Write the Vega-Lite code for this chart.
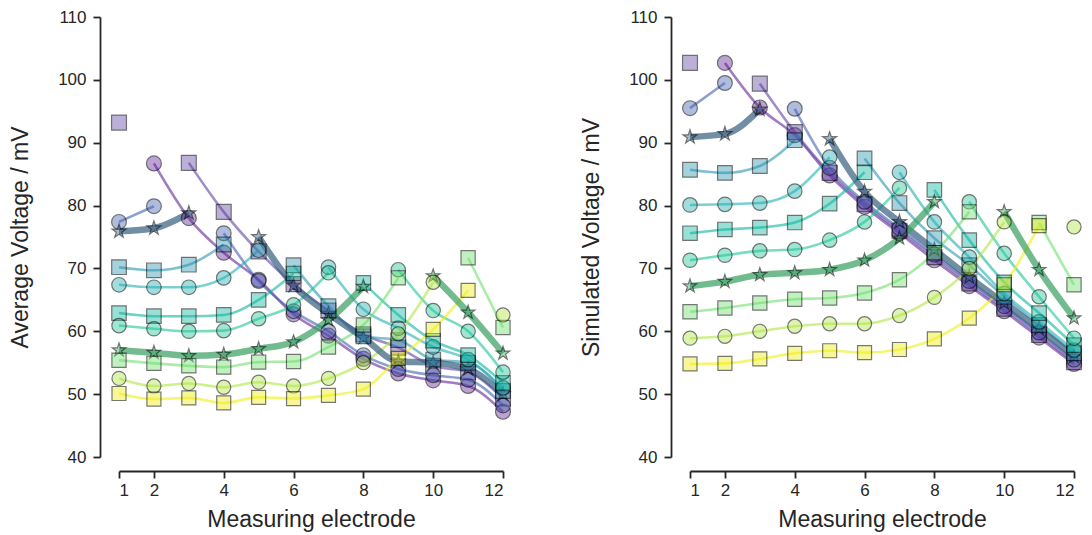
{
"$schema":"https://vega.github.io/schema/vega-lite/v6.json",
"padding":{"left":9,"top":8,"right":5,"bottom":5},
"datasets":{"d":[
{"p":"a","s":1,"e":2,"v":86.7,"g":1},{"p":"a","s":1,"e":3,"v":78.0,"g":1},{"p":"a","s":1,"e":4,"v":72.5,"g":1},{"p":"a","s":1,"e":5,"v":68.2,"g":1},{"p":"a","s":1,"e":6,"v":62.7,"g":1},{"p":"a","s":1,"e":7,"v":59.3,"g":1},{"p":"a","s":1,"e":8,"v":55.6,"g":1},{"p":"a","s":1,"e":9,"v":53.3,"g":1},{"p":"a","s":1,"e":10,"v":52.2,"g":1},{"p":"a","s":1,"e":11,"v":51.3,"g":1},{"p":"a","s":1,"e":12,"v":47.2,"g":1},
{"p":"a","s":2,"e":1,"v":93.2,"g":0},{"p":"a","s":2,"e":3,"v":86.8,"g":1},{"p":"a","s":2,"e":4,"v":79.0,"g":1},{"p":"a","s":2,"e":5,"v":72.7,"g":1},{"p":"a","s":2,"e":6,"v":67.5,"g":1},{"p":"a","s":2,"e":7,"v":63.3,"g":1},{"p":"a","s":2,"e":8,"v":59.5,"g":1},{"p":"a","s":2,"e":9,"v":57.4,"g":1},{"p":"a","s":2,"e":10,"v":54.5,"g":1},{"p":"a","s":2,"e":11,"v":53.5,"g":1},{"p":"a","s":2,"e":12,"v":49.3,"g":1},
{"p":"a","s":3,"e":1,"v":77.4,"g":0},{"p":"a","s":3,"e":2,"v":79.9,"g":0},{"p":"a","s":3,"e":4,"v":75.6,"g":1},{"p":"a","s":3,"e":5,"v":68.0,"g":1},{"p":"a","s":3,"e":6,"v":63.2,"g":1},{"p":"a","s":3,"e":7,"v":60.0,"g":1},{"p":"a","s":3,"e":8,"v":56.2,"g":1},{"p":"a","s":3,"e":9,"v":54.0,"g":1},{"p":"a","s":3,"e":10,"v":53.0,"g":1},{"p":"a","s":3,"e":11,"v":52.3,"g":1},{"p":"a","s":3,"e":12,"v":48.2,"g":1},
{"p":"a","s":4,"e":1,"v":75.9,"g":0},{"p":"a","s":4,"e":2,"v":76.4,"g":0},{"p":"a","s":4,"e":3,"v":78.8,"g":0},{"p":"a","s":4,"e":5,"v":75.0,"g":1},{"p":"a","s":4,"e":6,"v":67.3,"g":1},{"p":"a","s":4,"e":7,"v":62.8,"g":1},{"p":"a","s":4,"e":8,"v":59.0,"g":1},{"p":"a","s":4,"e":9,"v":55.2,"g":1},{"p":"a","s":4,"e":10,"v":55.0,"g":1},{"p":"a","s":4,"e":11,"v":54.0,"g":1},{"p":"a","s":4,"e":12,"v":50.0,"g":1},
{"p":"a","s":5,"e":1,"v":70.2,"g":0},{"p":"a","s":5,"e":2,"v":69.7,"g":0},{"p":"a","s":5,"e":3,"v":70.6,"g":0},{"p":"a","s":5,"e":4,"v":73.8,"g":0},{"p":"a","s":5,"e":6,"v":70.5,"g":1},{"p":"a","s":5,"e":7,"v":64.0,"g":1},{"p":"a","s":5,"e":8,"v":59.2,"g":1},{"p":"a","s":5,"e":9,"v":58.6,"g":1},{"p":"a","s":5,"e":10,"v":55.5,"g":1},{"p":"a","s":5,"e":11,"v":55.0,"g":1},{"p":"a","s":5,"e":12,"v":50.5,"g":1},
{"p":"a","s":6,"e":1,"v":67.4,"g":0},{"p":"a","s":6,"e":2,"v":67.0,"g":0},{"p":"a","s":6,"e":3,"v":67.0,"g":0},{"p":"a","s":6,"e":4,"v":68.5,"g":0},{"p":"a","s":6,"e":5,"v":72.9,"g":0},{"p":"a","s":6,"e":7,"v":70.2,"g":1},{"p":"a","s":6,"e":8,"v":63.5,"g":1},{"p":"a","s":6,"e":9,"v":60.5,"g":1},{"p":"a","s":6,"e":10,"v":57.5,"g":1},{"p":"a","s":6,"e":11,"v":55.5,"g":1},{"p":"a","s":6,"e":12,"v":51.0,"g":1},
{"p":"a","s":7,"e":1,"v":62.9,"g":0},{"p":"a","s":7,"e":2,"v":62.4,"g":0},{"p":"a","s":7,"e":3,"v":62.4,"g":0},{"p":"a","s":7,"e":4,"v":62.6,"g":0},{"p":"a","s":7,"e":5,"v":65.0,"g":0},{"p":"a","s":7,"e":6,"v":69.2,"g":0},{"p":"a","s":7,"e":8,"v":67.7,"g":1},{"p":"a","s":7,"e":9,"v":62.6,"g":1},{"p":"a","s":7,"e":10,"v":58.5,"g":1},{"p":"a","s":7,"e":11,"v":56.2,"g":1},{"p":"a","s":7,"e":12,"v":51.8,"g":1},
{"p":"a","s":8,"e":1,"v":60.9,"g":0},{"p":"a","s":8,"e":2,"v":60.4,"g":0},{"p":"a","s":8,"e":3,"v":60.0,"g":0},{"p":"a","s":8,"e":4,"v":60.1,"g":0},{"p":"a","s":8,"e":5,"v":62.0,"g":0},{"p":"a","s":8,"e":6,"v":64.2,"g":0},{"p":"a","s":8,"e":7,"v":69.3,"g":0},{"p":"a","s":8,"e":9,"v":69.8,"g":1},{"p":"a","s":8,"e":10,"v":63.3,"g":1},{"p":"a","s":8,"e":11,"v":60.0,"g":1},{"p":"a","s":8,"e":12,"v":53.5,"g":1},
{"p":"a","s":9,"e":1,"v":57.0,"g":0},{"p":"a","s":9,"e":2,"v":56.6,"g":0},{"p":"a","s":9,"e":3,"v":56.1,"g":0},{"p":"a","s":9,"e":4,"v":56.3,"g":0},{"p":"a","s":9,"e":5,"v":57.2,"g":0},{"p":"a","s":9,"e":6,"v":58.3,"g":0},{"p":"a","s":9,"e":7,"v":61.8,"g":0},{"p":"a","s":9,"e":8,"v":67.1,"g":0},{"p":"a","s":9,"e":10,"v":68.8,"g":1},{"p":"a","s":9,"e":11,"v":63.0,"g":1},{"p":"a","s":9,"e":12,"v":56.5,"g":1},
{"p":"a","s":10,"e":1,"v":55.4,"g":0},{"p":"a","s":10,"e":2,"v":54.9,"g":0},{"p":"a","s":10,"e":3,"v":54.5,"g":0},{"p":"a","s":10,"e":4,"v":54.3,"g":0},{"p":"a","s":10,"e":5,"v":55.1,"g":0},{"p":"a","s":10,"e":6,"v":55.2,"g":0},{"p":"a","s":10,"e":7,"v":57.5,"g":0},{"p":"a","s":10,"e":8,"v":61.0,"g":0},{"p":"a","s":10,"e":9,"v":68.5,"g":0},{"p":"a","s":10,"e":11,"v":71.7,"g":1},{"p":"a","s":10,"e":12,"v":60.6,"g":1},
{"p":"a","s":11,"e":1,"v":52.5,"g":0},{"p":"a","s":11,"e":2,"v":51.3,"g":0},{"p":"a","s":11,"e":3,"v":51.7,"g":0},{"p":"a","s":11,"e":4,"v":51.1,"g":0},{"p":"a","s":11,"e":5,"v":51.9,"g":0},{"p":"a","s":11,"e":6,"v":51.3,"g":0},{"p":"a","s":11,"e":7,"v":52.5,"g":0},{"p":"a","s":11,"e":8,"v":55.0,"g":0},{"p":"a","s":11,"e":9,"v":59.6,"g":0},{"p":"a","s":11,"e":10,"v":67.8,"g":0},{"p":"a","s":11,"e":12,"v":62.6,"g":1},
{"p":"a","s":12,"e":1,"v":50.1,"g":0},{"p":"a","s":12,"e":2,"v":49.2,"g":0},{"p":"a","s":12,"e":3,"v":49.4,"g":0},{"p":"a","s":12,"e":4,"v":48.6,"g":0},{"p":"a","s":12,"e":5,"v":49.5,"g":0},{"p":"a","s":12,"e":6,"v":49.3,"g":0},{"p":"a","s":12,"e":7,"v":49.8,"g":0},{"p":"a","s":12,"e":8,"v":50.8,"g":0},{"p":"a","s":12,"e":9,"v":55.7,"g":0},{"p":"a","s":12,"e":10,"v":60.3,"g":0},{"p":"a","s":12,"e":11,"v":66.5,"g":0},
{"p":"b","s":1,"e":2,"v":102.7,"g":1},{"p":"b","s":1,"e":3,"v":95.6,"g":1},{"p":"b","s":1,"e":4,"v":91.2,"g":1},{"p":"b","s":1,"e":5,"v":84.8,"g":1},{"p":"b","s":1,"e":6,"v":79.8,"g":1},{"p":"b","s":1,"e":7,"v":75.6,"g":1},{"p":"b","s":1,"e":8,"v":71.3,"g":1},{"p":"b","s":1,"e":9,"v":67.2,"g":1},{"p":"b","s":1,"e":10,"v":63.2,"g":1},{"p":"b","s":1,"e":11,"v":59.0,"g":1},{"p":"b","s":1,"e":12,"v":54.8,"g":1},
{"p":"b","s":2,"e":1,"v":102.7,"g":0},{"p":"b","s":2,"e":3,"v":99.4,"g":1},{"p":"b","s":2,"e":4,"v":91.7,"g":1},{"p":"b","s":2,"e":5,"v":85.2,"g":1},{"p":"b","s":2,"e":6,"v":80.2,"g":1},{"p":"b","s":2,"e":7,"v":76.0,"g":1},{"p":"b","s":2,"e":8,"v":71.8,"g":1},{"p":"b","s":2,"e":9,"v":67.6,"g":1},{"p":"b","s":2,"e":10,"v":63.6,"g":1},{"p":"b","s":2,"e":11,"v":59.4,"g":1},{"p":"b","s":2,"e":12,"v":55.1,"g":1},
{"p":"b","s":3,"e":1,"v":95.5,"g":0},{"p":"b","s":3,"e":2,"v":99.5,"g":0},{"p":"b","s":3,"e":4,"v":95.4,"g":1},{"p":"b","s":3,"e":5,"v":86.0,"g":1},{"p":"b","s":3,"e":6,"v":80.6,"g":1},{"p":"b","s":3,"e":7,"v":76.4,"g":1},{"p":"b","s":3,"e":8,"v":72.2,"g":1},{"p":"b","s":3,"e":9,"v":68.0,"g":1},{"p":"b","s":3,"e":10,"v":64.0,"g":1},{"p":"b","s":3,"e":11,"v":59.8,"g":1},{"p":"b","s":3,"e":12,"v":55.5,"g":1},
{"p":"b","s":4,"e":1,"v":90.9,"g":0},{"p":"b","s":4,"e":2,"v":91.4,"g":0},{"p":"b","s":4,"e":3,"v":95.3,"g":0},{"p":"b","s":4,"e":5,"v":90.6,"g":1},{"p":"b","s":4,"e":6,"v":82.2,"g":1},{"p":"b","s":4,"e":7,"v":77.4,"g":1},{"p":"b","s":4,"e":8,"v":73.0,"g":1},{"p":"b","s":4,"e":9,"v":68.6,"g":1},{"p":"b","s":4,"e":10,"v":64.5,"g":1},{"p":"b","s":4,"e":11,"v":60.4,"g":1},{"p":"b","s":4,"e":12,"v":56.0,"g":1},
{"p":"b","s":5,"e":1,"v":85.7,"g":0},{"p":"b","s":5,"e":2,"v":85.2,"g":0},{"p":"b","s":5,"e":3,"v":86.3,"g":0},{"p":"b","s":5,"e":4,"v":90.4,"g":0},{"p":"b","s":5,"e":6,"v":87.5,"g":1},{"p":"b","s":5,"e":7,"v":80.4,"g":1},{"p":"b","s":5,"e":8,"v":74.8,"g":1},{"p":"b","s":5,"e":9,"v":70.5,"g":1},{"p":"b","s":5,"e":10,"v":65.5,"g":1},{"p":"b","s":5,"e":11,"v":61.0,"g":1},{"p":"b","s":5,"e":12,"v":56.5,"g":1},
{"p":"b","s":6,"e":1,"v":80.1,"g":0},{"p":"b","s":6,"e":2,"v":80.2,"g":0},{"p":"b","s":6,"e":3,"v":80.4,"g":0},{"p":"b","s":6,"e":4,"v":82.3,"g":0},{"p":"b","s":6,"e":5,"v":87.7,"g":0},{"p":"b","s":6,"e":7,"v":85.3,"g":1},{"p":"b","s":6,"e":8,"v":77.4,"g":1},{"p":"b","s":6,"e":9,"v":71.8,"g":1},{"p":"b","s":6,"e":10,"v":66.0,"g":1},{"p":"b","s":6,"e":11,"v":61.5,"g":1},{"p":"b","s":6,"e":12,"v":57.0,"g":1},
{"p":"b","s":7,"e":1,"v":75.6,"g":0},{"p":"b","s":7,"e":2,"v":76.2,"g":0},{"p":"b","s":7,"e":3,"v":76.5,"g":0},{"p":"b","s":7,"e":4,"v":77.3,"g":0},{"p":"b","s":7,"e":5,"v":80.3,"g":0},{"p":"b","s":7,"e":6,"v":85.3,"g":0},{"p":"b","s":7,"e":8,"v":82.5,"g":1},{"p":"b","s":7,"e":9,"v":74.5,"g":1},{"p":"b","s":7,"e":10,"v":67.8,"g":1},{"p":"b","s":7,"e":11,"v":62.9,"g":1},{"p":"b","s":7,"e":12,"v":57.8,"g":1},
{"p":"b","s":8,"e":1,"v":71.3,"g":0},{"p":"b","s":8,"e":2,"v":72.1,"g":0},{"p":"b","s":8,"e":3,"v":72.8,"g":0},{"p":"b","s":8,"e":4,"v":73.0,"g":0},{"p":"b","s":8,"e":5,"v":74.5,"g":0},{"p":"b","s":8,"e":6,"v":77.4,"g":0},{"p":"b","s":8,"e":7,"v":82.8,"g":0},{"p":"b","s":8,"e":9,"v":80.6,"g":1},{"p":"b","s":8,"e":10,"v":72.4,"g":1},{"p":"b","s":8,"e":11,"v":65.5,"g":1},{"p":"b","s":8,"e":12,"v":58.9,"g":1},
{"p":"b","s":9,"e":1,"v":67.2,"g":0},{"p":"b","s":9,"e":2,"v":67.9,"g":0},{"p":"b","s":9,"e":3,"v":69.0,"g":0},{"p":"b","s":9,"e":4,"v":69.3,"g":0},{"p":"b","s":9,"e":5,"v":69.8,"g":0},{"p":"b","s":9,"e":6,"v":71.3,"g":0},{"p":"b","s":9,"e":7,"v":74.8,"g":0},{"p":"b","s":9,"e":8,"v":80.6,"g":0},{"p":"b","s":9,"e":10,"v":79.0,"g":1},{"p":"b","s":9,"e":11,"v":69.8,"g":1},{"p":"b","s":9,"e":12,"v":62.1,"g":1},
{"p":"b","s":10,"e":1,"v":63.1,"g":0},{"p":"b","s":10,"e":2,"v":63.7,"g":0},{"p":"b","s":10,"e":3,"v":64.5,"g":0},{"p":"b","s":10,"e":4,"v":65.1,"g":0},{"p":"b","s":10,"e":5,"v":65.3,"g":0},{"p":"b","s":10,"e":6,"v":66.1,"g":0},{"p":"b","s":10,"e":7,"v":68.2,"g":0},{"p":"b","s":10,"e":8,"v":72.5,"g":0},{"p":"b","s":10,"e":9,"v":79.0,"g":0},{"p":"b","s":10,"e":11,"v":77.3,"g":1},{"p":"b","s":10,"e":12,"v":67.4,"g":1},
{"p":"b","s":11,"e":1,"v":58.9,"g":0},{"p":"b","s":11,"e":2,"v":59.2,"g":0},{"p":"b","s":11,"e":3,"v":60.0,"g":0},{"p":"b","s":11,"e":4,"v":60.8,"g":0},{"p":"b","s":11,"e":5,"v":61.2,"g":0},{"p":"b","s":11,"e":6,"v":61.2,"g":0},{"p":"b","s":11,"e":7,"v":62.5,"g":0},{"p":"b","s":11,"e":8,"v":65.4,"g":0},{"p":"b","s":11,"e":9,"v":70.0,"g":0},{"p":"b","s":11,"e":10,"v":77.4,"g":0},{"p":"b","s":11,"e":12,"v":76.6,"g":1},
{"p":"b","s":12,"e":1,"v":54.8,"g":0},{"p":"b","s":12,"e":2,"v":54.9,"g":0},{"p":"b","s":12,"e":3,"v":55.6,"g":0},{"p":"b","s":12,"e":4,"v":56.5,"g":0},{"p":"b","s":12,"e":5,"v":56.9,"g":0},{"p":"b","s":12,"e":6,"v":56.6,"g":0},{"p":"b","s":12,"e":7,"v":57.1,"g":0},{"p":"b","s":12,"e":8,"v":58.8,"g":0},{"p":"b","s":12,"e":9,"v":62.1,"g":0},{"p":"b","s":12,"e":10,"v":67.4,"g":0},{"p":"b","s":12,"e":11,"v":76.8,"g":0}
]},
"hconcat":[
{"width":384,"height":440,"data":{"name":"d"},"transform":[{"filter":"datum.p == 'a'"}],
"encoding":{
"x":{"field":"e","type":"quantitative","scale":{"domain":[1,12],"nice":false},"axis":{"values":[1,2,4,6,8,10,12],"offset":14,"labelPadding":4,"title":"Measuring electrode"}},
"y":{"field":"v","type":"quantitative","scale":{"domain":[40,110],"nice":false,"zero":false},"axis":{"values":[40,50,60,70,80,90,100,110],"offset":19,"labelPadding":7,"titlePadding":25,"title":"Average Voltage / mV"}},
"color":{"field":"s","type":"nominal","legend":null,"scale":{"domain":[1,2,3,4,5,6,7,8,9,10,11,12],"range":["#612596","#6143a3","#4461b1","#365e7d","#2a96b1","#23afb1","#0cb69d","#1ec596","#369e60","#6edf6e","#b1e646","#eeee11"]}}
},
"layer":[
{"transform":[{"filter":"datum.s != 4 && datum.s != 9"}],"mark":{"type":"line","interpolate":"monotone","strokeWidth":2.6,"opacity":0.6},"encoding":{"detail":{"field":"g","type":"nominal"}}},
{"transform":[{"filter":"datum.s == 4 || datum.s == 9"}],"mark":{"type":"line","interpolate":"monotone","strokeWidth":6.5,"opacity":0.7},"encoding":{"detail":{"field":"g","type":"nominal"}}},
{"mark":{"type":"point","filled":true,"stroke":"black","strokeWidth":1.2,"strokeOpacity":0.75},
"encoding":{
"shape":{"field":"s","type":"nominal","legend":null,"scale":{"domain":[1,2,3,4,5,6,7,8,9,10,11,12],"range":["circle","square","circle","M0,-1L0.2245,-0.309L0.951,-0.309L0.363,0.118L0.588,0.809L0,0.382L-0.588,0.809L-0.363,0.118L-0.951,-0.309L-0.2245,-0.309Z","square","circle","square","circle","M0,-1L0.2245,-0.309L0.951,-0.309L0.363,0.118L0.588,0.809L0,0.382L-0.588,0.809L-0.363,0.118L-0.951,-0.309L-0.2245,-0.309Z","square","circle","square"]}},
"size":{"field":"s","type":"nominal","legend":null,"scale":{"domain":[1,2,3,4,5,6,7,8,9,10,11,12],"range":[225,196,225,290,196,225,196,225,290,196,225,196]}},
"fillOpacity":{"field":"s","type":"nominal","legend":null,"scale":{"domain":[1,2,3,4,5,6,7,8,9,10,11,12],"range":[0.6,0.6,0.6,0.9,0.6,0.6,0.6,0.6,0.9,0.6,0.6,0.6]}}
}}
]},
{"width":384,"height":440,"data":{"name":"d"},"transform":[{"filter":"datum.p == 'b'"}],
"encoding":{
"x":{"field":"e","type":"quantitative","scale":{"domain":[1,12],"nice":false},"axis":{"values":[1,2,4,6,8,10,12],"offset":14,"labelPadding":4,"title":"Measuring electrode"}},
"y":{"field":"v","type":"quantitative","scale":{"domain":[40,110],"nice":false,"zero":false},"axis":{"values":[40,50,60,70,80,90,100,110],"offset":19,"labelPadding":7,"titlePadding":25,"title":"Simulated Voltage / mV"}},
"color":{"field":"s","type":"nominal","legend":null,"scale":{"domain":[1,2,3,4,5,6,7,8,9,10,11,12],"range":["#612596","#6143a3","#4461b1","#365e7d","#2a96b1","#23afb1","#0cb69d","#1ec596","#369e60","#6edf6e","#b1e646","#eeee11"]}}
},
"layer":[
{"transform":[{"filter":"datum.s != 4 && datum.s != 9"}],"mark":{"type":"line","interpolate":"monotone","strokeWidth":2.6,"opacity":0.6},"encoding":{"detail":{"field":"g","type":"nominal"}}},
{"transform":[{"filter":"datum.s == 4 || datum.s == 9"}],"mark":{"type":"line","interpolate":"monotone","strokeWidth":6.5,"opacity":0.7},"encoding":{"detail":{"field":"g","type":"nominal"}}},
{"mark":{"type":"point","filled":true,"stroke":"black","strokeWidth":1.2,"strokeOpacity":0.75},
"encoding":{
"shape":{"field":"s","type":"nominal","legend":null,"scale":{"domain":[1,2,3,4,5,6,7,8,9,10,11,12],"range":["circle","square","circle","M0,-1L0.2245,-0.309L0.951,-0.309L0.363,0.118L0.588,0.809L0,0.382L-0.588,0.809L-0.363,0.118L-0.951,-0.309L-0.2245,-0.309Z","square","circle","square","circle","M0,-1L0.2245,-0.309L0.951,-0.309L0.363,0.118L0.588,0.809L0,0.382L-0.588,0.809L-0.363,0.118L-0.951,-0.309L-0.2245,-0.309Z","square","circle","square"]}},
"size":{"field":"s","type":"nominal","legend":null,"scale":{"domain":[1,2,3,4,5,6,7,8,9,10,11,12],"range":[225,196,225,290,196,225,196,225,290,196,225,196]}},
"fillOpacity":{"field":"s","type":"nominal","legend":null,"scale":{"domain":[1,2,3,4,5,6,7,8,9,10,11,12],"range":[0.6,0.6,0.6,0.9,0.6,0.6,0.6,0.6,0.9,0.6,0.6,0.6]}}
}}
]}
],
"config":{
"view":{"stroke":null},
"concat":{"spacing":64},
"axis":{"grid":false,"domainColor":"#262626","domainWidth":1.8,"tickColor":"#262626","tickWidth":1.8,"tickSize":7,"labelFont":"Liberation Sans","labelFontSize":17,"labelColor":"#262626","titleFont":"Liberation Sans","titleFontSize":23,"titleFontWeight":"normal","titleColor":"#262626","titlePadding":10}
}
}
